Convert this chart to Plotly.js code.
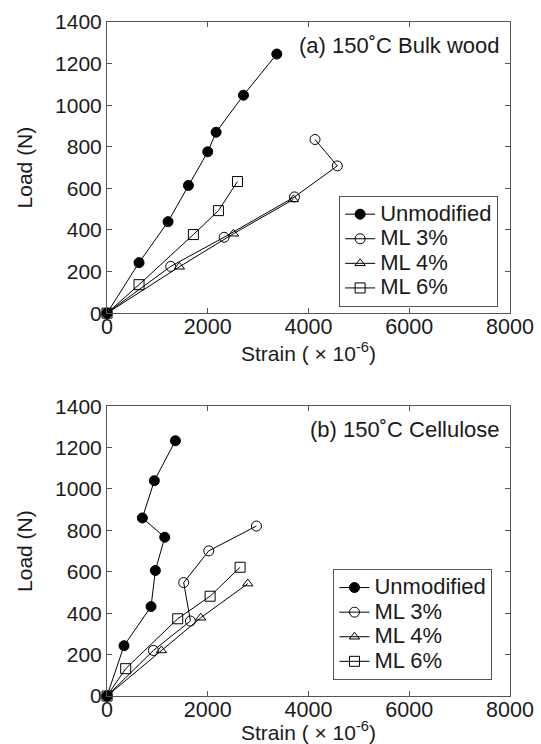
<!DOCTYPE html>
<html>
<head>
<meta charset="utf-8">
<script src="https://cdn.plot.ly/plotly-3.0.1.min.js"></script>
<style>body{margin:0;padding:0;background:#fff}#chart{width:541px;height:744px}</style>
</head>
<body>
<div id="chart"></div>
<script>
// (a) 150 °C Bulk wood
const a_unmod_x = [0, 636, 1212, 1616, 2000, 2166, 2709, 3371];
const a_unmod_y = [0, 243, 440, 614, 776, 870, 1048, 1246];
const a_ml3_x = [0, 1265, 2325, 3722, 4572, 4129];
const a_ml3_y = [0, 225, 365, 559, 708, 835];
const a_ml4_x = [0, 1437, 2510, 3700];
const a_ml4_y = [0, 223, 382, 547];
const a_ml6_x = [0, 636, 1715, 2212, 2590];
const a_ml6_y = [0, 137, 378, 493, 633];

// (b) 150 °C Cellulose
const b_unmod_x = [0, 338, 874, 960, 1146, 702, 940, 1358];
const b_unmod_y = [0, 243, 432, 606, 767, 860, 1040, 1233];
const b_ml3_x = [0, 921, 1656, 1523, 2020, 2967];
const b_ml3_y = [0, 220, 362, 548, 701, 821];
const b_ml4_x = [0, 1080, 1861, 2795];
const b_ml4_y = [0, 220, 378, 543];
const b_ml6_x = [0, 371, 1404, 2047, 2643];
const b_ml6_y = [0, 132, 373, 482, 622];

const seriesNames = ["Unmodified", "ML 3%", "ML 4%", "ML 6%"];
const panelLabels = ["(a) 150˚C Bulk wood", "(b) 150˚C Cellulose"];
const xTicks = [0, 2000, 4000, 6000, 8000];
const yTicks = [0, 200, 400, 600, 800, 1000, 1200, 1400];

const symbols = ["circle", "circle-open", "triangle-up-open", "square-open"];
const FAM = "Liberation Sans, Arial, Helvetica, sans-serif";
const TXT = "#1a1a1a";

function mk(x, y, i, xa, ya, leg) {
  return {
    x: x, y: y,
    name: '<span style="font-size:22px">' + seriesNames[i] + '</span>',
    type: "scatter", mode: "lines+markers", cliponaxis: false,
    xaxis: xa, yaxis: ya, legend: leg,
    line: {color: "#000", width: 1},
    marker: {symbol: symbols[i], size: i === 2 ? 9 : 10, color: "#000",
             line: {color: "#000", width: 1}}
  };
}

const data = [
  mk(a_unmod_x, a_unmod_y, 0, "x", "y", "legend"),
  mk(a_ml3_x, a_ml3_y, 1, "x", "y", "legend"),
  mk(a_ml4_x, a_ml4_y, 2, "x", "y", "legend"),
  mk(a_ml6_x, a_ml6_y, 3, "x", "y", "legend"),
  mk(b_unmod_x, b_unmod_y, 0, "x2", "y2", "legend2"),
  mk(b_ml3_x, b_ml3_y, 1, "x2", "y2", "legend2"),
  mk(b_ml4_x, b_ml4_y, 2, "x2", "y2", "legend2"),
  mk(b_ml6_x, b_ml6_y, 3, "x2", "y2", "legend2")
];

const tickFont = {family: FAM, size: 21.5, color: TXT};
const titleFont = {family: FAM, size: 21, color: TXT};

function xax(anchor) {
  return {
    anchor: anchor, range: [0, 8000], tickvals: xTicks, ticktext: xTicks.map(String),
    ticks: "inside", ticklen: 5, tickcolor: "#555", showline: true, linecolor: "#555",
    linewidth: 1, mirror: "ticks", showgrid: false, zeroline: false, tickfont: tickFont,
    ticklabelstandoff: -6,
    title: {text: "Strain ( × 10<sup>-6</sup>)", font: titleFont, standoff: 0}
  };
}
function yax(anchor, dom) {
  return {
    anchor: anchor, domain: dom, range: [0, 1400], tickvals: yTicks, ticktext: yTicks.map(String),
    ticks: "inside", ticklen: 5, tickcolor: "#555", showline: true, linecolor: "#555",
    linewidth: 1, mirror: "ticks", showgrid: false, zeroline: false,
    tickfont: {family: FAM, size: 21, color: TXT},
    title: {text: "Load (N)", font: titleFont, standoff: 16}
  };
}

const legBase = {xanchor: "left", yanchor: "top", bordercolor: "#555", borderwidth: 1,
                 font: {family: FAM, size: 16.6, color: TXT}, itemwidth: 30,
                 tracegroupgap: 0, bgcolor: "#fff"};

const layout = {
  width: 541, height: 744,
  margin: {l: 107, r: 31, t: 22, b: 48},
  paper_bgcolor: "#fff", plot_bgcolor: "#fff",
  font: {family: FAM, size: 21, color: TXT},
  xaxis: xax("y"),
  yaxis: yax("x", [0.568, 1]),
  xaxis2: xax("y2"),
  yaxis2: yax("x2", [0, 0.43]),
  legend: Object.assign({}, legBase, {x: 0.576, y: 0.742}),
  legend2: Object.assign({}, legBase, {x: 0.562, y: 0.188}),
  annotations: [
    {text: panelLabels[0], xref: "x domain", yref: "y domain", x: 0.98, y: 0.92,
     xanchor: "right", yanchor: "middle", showarrow: false, font: {family: FAM, size: 22, color: TXT}},
    {text: panelLabels[1], xref: "x2 domain", yref: "y2 domain", x: 0.98, y: 0.92,
     xanchor: "right", yanchor: "middle", showarrow: false, font: {family: FAM, size: 22, color: TXT}}
  ],
  showlegend: true
};

Plotly.newPlot("chart", data, layout, {displayModeBar: false, staticPlot: true});
</script>
</body>
</html>
